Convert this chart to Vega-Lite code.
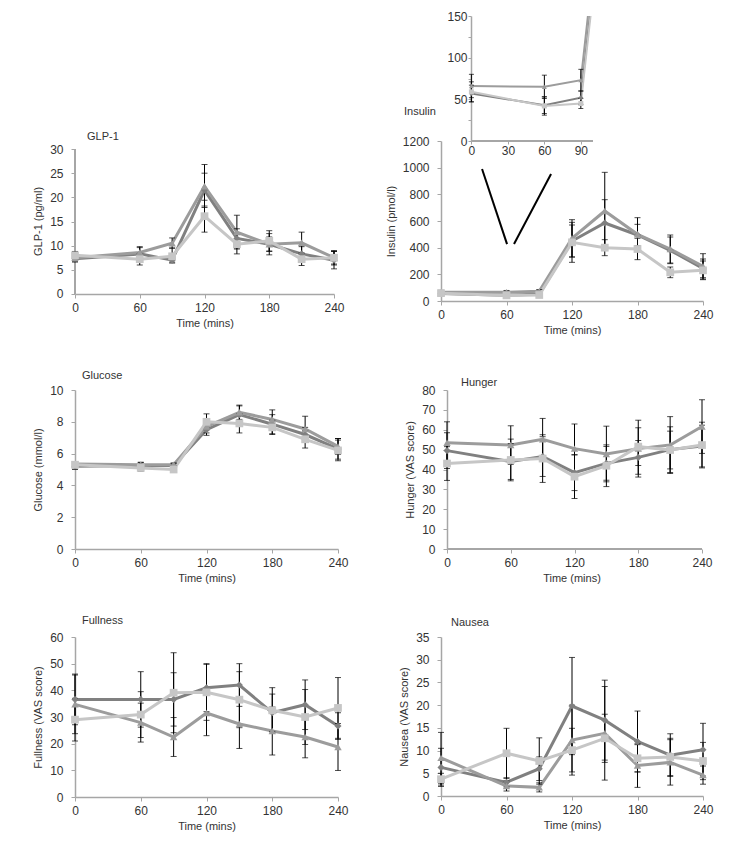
{
  "$schema": "https://vega.github.io/schema/vega-lite/v6.json",
  "padding": {"left": 32, "top": 10, "right": 5, "bottom": 5},
  "config": {
    "font": "Liberation Sans",
    "view": {"stroke": null},
    "axis": {"grid": false, "domainColor": "#a6a6a6", "domainWidth": 1.5, "tickColor": "#a6a6a6", "tickWidth": 1, "tickSize": 4, "labelFontSize": 12, "labelColor": "#333333", "titleFontSize": 11, "titleFontWeight": "normal", "titleColor": "#333333", "labelFlush": false, "labelOverlap": false, "format": "d"},
    "axisX": {"labelPadding": 4, "titlePadding": 4},
    "axisY": {"labelPadding": 8, "titlePadding": 6},
    "title": {"fontSize": 11, "fontWeight": "normal", "anchor": "start", "color": "#333333", "frame": "group"},
    "point": {"filled": true, "opacity": 1}
  },
  "datasets": {
    "glp1": [
      {"t":0,"g":"A","m":7.3,"lo":6.6,"hi":8.0},{"t":0,"g":"B","m":7.5,"lo":6.8,"hi":8.2},{"t":0,"g":"C","m":8.0,"lo":7.2,"hi":8.8},
      {"t":60,"g":"A","m":8.3,"lo":7.0,"hi":9.6},{"t":60,"g":"B","m":8.6,"lo":7.4,"hi":9.8},{"t":60,"g":"C","m":7.2,"lo":6.0,"hi":8.4},
      {"t":90,"g":"A","m":7.0,"lo":6.4,"hi":7.6},{"t":90,"g":"B","m":10.5,"lo":9.5,"hi":11.6},{"t":90,"g":"C","m":7.8,"lo":6.6,"hi":9.5},
      {"t":120,"g":"A","m":21.5,"lo":18.2,"hi":25.0},{"t":120,"g":"B","m":22.3,"lo":17.9,"hi":26.8},{"t":120,"g":"C","m":16.1,"lo":12.8,"hi":19.4},
      {"t":150,"g":"A","m":11.5,"lo":9.5,"hi":13.5},{"t":150,"g":"B","m":12.8,"lo":9.3,"hi":16.3},{"t":150,"g":"C","m":10.3,"lo":8.3,"hi":12.3},
      {"t":180,"g":"A","m":10.3,"lo":8.8,"hi":11.8},{"t":180,"g":"B","m":10.3,"lo":8.1,"hi":12.5},{"t":180,"g":"C","m":11.0,"lo":8.9,"hi":13.1},
      {"t":210,"g":"A","m":8.3,"lo":6.8,"hi":9.8},{"t":210,"g":"B","m":10.6,"lo":8.4,"hi":12.8},{"t":210,"g":"C","m":7.2,"lo":5.9,"hi":8.5},
      {"t":240,"g":"A","m":7.0,"lo":5.2,"hi":8.8},{"t":240,"g":"B","m":7.5,"lo":6.0,"hi":9.0},{"t":240,"g":"C","m":7.5,"lo":6.2,"hi":8.8}
    ],
    "insulin": [
      {"t":0,"g":"A","m":57,"lo":47,"hi":67},{"t":0,"g":"B","m":66,"lo":52,"hi":80},{"t":0,"g":"C","m":59,"lo":47,"hi":71},
      {"t":60,"g":"A","m":43,"lo":33,"hi":53},{"t":60,"g":"B","m":65,"lo":51,"hi":79},{"t":60,"g":"C","m":42,"lo":31,"hi":53},
      {"t":90,"g":"A","m":52,"lo":44,"hi":60},{"t":90,"g":"B","m":73,"lo":60,"hi":86},{"t":90,"g":"C","m":45,"lo":39,"hi":51},
      {"t":120,"g":"A","m":450,"lo":330,"hi":570},{"t":120,"g":"B","m":470,"lo":330,"hi":610},{"t":120,"g":"C","m":440,"lo":290,"hi":590},
      {"t":150,"g":"A","m":585,"lo":410,"hi":760},{"t":150,"g":"B","m":675,"lo":385,"hi":965},{"t":150,"g":"C","m":400,"lo":340,"hi":460},
      {"t":180,"g":"A","m":495,"lo":415,"hi":575},{"t":180,"g":"B","m":500,"lo":375,"hi":625},{"t":180,"g":"C","m":390,"lo":310,"hi":470},
      {"t":210,"g":"A","m":380,"lo":280,"hi":480},{"t":210,"g":"B","m":390,"lo":285,"hi":495},{"t":210,"g":"C","m":215,"lo":175,"hi":255},
      {"t":240,"g":"A","m":245,"lo":175,"hi":315},{"t":240,"g":"B","m":260,"lo":165,"hi":355},{"t":240,"g":"C","m":230,"lo":160,"hi":300}
    ],
    "glucose": [
      {"t":0,"g":"A","m":5.2,"lo":5.0,"hi":5.4},{"t":0,"g":"B","m":5.35,"lo":5.2,"hi":5.5},{"t":0,"g":"C","m":5.3,"lo":5.1,"hi":5.5},
      {"t":60,"g":"A","m":5.25,"lo":5.05,"hi":5.45},{"t":60,"g":"B","m":5.3,"lo":5.15,"hi":5.45},{"t":60,"g":"C","m":5.1,"lo":4.9,"hi":5.3},
      {"t":90,"g":"A","m":5.25,"lo":5.1,"hi":5.4},{"t":90,"g":"B","m":5.3,"lo":5.2,"hi":5.4},{"t":90,"g":"C","m":5.0,"lo":4.85,"hi":5.15},
      {"t":120,"g":"A","m":7.5,"lo":7.15,"hi":7.85},{"t":120,"g":"B","m":7.7,"lo":7.3,"hi":8.1},{"t":120,"g":"C","m":8.0,"lo":7.5,"hi":8.5},
      {"t":150,"g":"A","m":8.45,"lo":7.9,"hi":9.0},{"t":150,"g":"B","m":8.6,"lo":8.15,"hi":9.05},{"t":150,"g":"C","m":7.9,"lo":7.3,"hi":8.5},
      {"t":180,"g":"A","m":7.85,"lo":7.25,"hi":8.45},{"t":180,"g":"B","m":8.15,"lo":7.55,"hi":8.75},{"t":180,"g":"C","m":7.65,"lo":7.2,"hi":8.1},
      {"t":210,"g":"A","m":7.2,"lo":6.75,"hi":7.65},{"t":210,"g":"B","m":7.55,"lo":6.75,"hi":8.35},{"t":210,"g":"C","m":6.9,"lo":6.35,"hi":7.45},
      {"t":240,"g":"A","m":6.3,"lo":5.65,"hi":6.95},{"t":240,"g":"B","m":6.45,"lo":5.95,"hi":6.95},{"t":240,"g":"C","m":6.2,"lo":5.55,"hi":6.85}
    ],
    "hunger": [
      {"t":0,"g":"A","m":49.5,"lo":40.5,"hi":58.5},{"t":0,"g":"B","m":53.5,"lo":43,"hi":64},{"t":0,"g":"C","m":43,"lo":34.5,"hi":51.5},
      {"t":60,"g":"A","m":44,"lo":35,"hi":53},{"t":60,"g":"B","m":52.3,"lo":42.6,"hi":62},{"t":60,"g":"C","m":44.8,"lo":34.3,"hi":55.3},
      {"t":90,"g":"A","m":46.5,"lo":36.5,"hi":56.5},{"t":90,"g":"B","m":55.2,"lo":44.7,"hi":65.7},{"t":90,"g":"C","m":45.5,"lo":33.5,"hi":57.5},
      {"t":120,"g":"A","m":38.4,"lo":29.4,"hi":47.4},{"t":120,"g":"B","m":50.5,"lo":38.1,"hi":62.9},{"t":120,"g":"C","m":36.4,"lo":25.4,"hi":47.4},
      {"t":150,"g":"A","m":43.1,"lo":34.6,"hi":51.6},{"t":150,"g":"B","m":47.8,"lo":33.8,"hi":61.8},{"t":150,"g":"C","m":41.9,"lo":31.4,"hi":52.4},
      {"t":180,"g":"A","m":46.1,"lo":37.6,"hi":54.6},{"t":180,"g":"B","m":50.5,"lo":36.2,"hi":64.8},{"t":180,"g":"C","m":51.5,"lo":42,"hi":61},
      {"t":210,"g":"A","m":50,"lo":38.5,"hi":61.5},{"t":210,"g":"B","m":52.3,"lo":38,"hi":66.6},{"t":210,"g":"C","m":49.8,"lo":40.3,"hi":59.3},
      {"t":240,"g":"A","m":51.8,"lo":41.3,"hi":62.3},{"t":240,"g":"B","m":61.6,"lo":48.1,"hi":75.1},{"t":240,"g":"C","m":52.3,"lo":40.8,"hi":63.8}
    ],
    "fullness": [
      {"t":0,"g":"A","m":36.6,"lo":27.1,"hi":46.1},{"t":0,"g":"B","m":34.75,"lo":23.75,"hi":45.75},{"t":0,"g":"C","m":29,"lo":21,"hi":37},
      {"t":60,"g":"A","m":36.6,"lo":26.2,"hi":47},{"t":60,"g":"B","m":27.9,"lo":20.6,"hi":35.2},{"t":60,"g":"C","m":30.9,"lo":22.3,"hi":39.5},
      {"t":90,"g":"A","m":36.6,"lo":26.6,"hi":46.6},{"t":90,"g":"B","m":22.5,"lo":15.2,"hi":29.8},{"t":90,"g":"C","m":39.1,"lo":24.1,"hi":54.1},
      {"t":120,"g":"A","m":41,"lo":32,"hi":50},{"t":120,"g":"B","m":31.5,"lo":23,"hi":40},{"t":120,"g":"C","m":39.25,"lo":28.75,"hi":49.75},
      {"t":150,"g":"A","m":42,"lo":34,"hi":50},{"t":150,"g":"B","m":27.4,"lo":18.2,"hi":36.6},{"t":150,"g":"C","m":36.5,"lo":26,"hi":47},
      {"t":180,"g":"A","m":31.6,"lo":24.6,"hi":38.6},{"t":180,"g":"B","m":24.75,"lo":15.75,"hi":33.75},{"t":180,"g":"C","m":32.5,"lo":24,"hi":41},
      {"t":210,"g":"A","m":34.6,"lo":25.3,"hi":43.9},{"t":210,"g":"B","m":22.5,"lo":14.7,"hi":30.3},{"t":210,"g":"C","m":30,"lo":19.7,"hi":40.3},
      {"t":240,"g":"A","m":26.6,"lo":21.6,"hi":31.6},{"t":240,"g":"B","m":18.75,"lo":9.95,"hi":27.55},{"t":240,"g":"C","m":33.4,"lo":22,"hi":44.8}
    ],
    "nausea": [
      {"t":0,"g":"A","m":6.3,"lo":2.1,"hi":10.5},{"t":0,"g":"B","m":8.4,"lo":2.8,"hi":14},{"t":0,"g":"C","m":3.7,"lo":2.4,"hi":5},
      {"t":60,"g":"A","m":3.0,"lo":2,"hi":4},{"t":60,"g":"B","m":2.2,"lo":1.1,"hi":3.3},{"t":60,"g":"C","m":9.4,"lo":3.9,"hi":14.9},
      {"t":90,"g":"A","m":6.0,"lo":3.4,"hi":8.6},{"t":90,"g":"B","m":1.9,"lo":0.9,"hi":2.9},{"t":90,"g":"C","m":7.7,"lo":2.6,"hi":12.8},
      {"t":120,"g":"A","m":19.8,"lo":9.1,"hi":30.5},{"t":120,"g":"B","m":12.3,"lo":4.6,"hi":20},{"t":120,"g":"C","m":10.1,"lo":5.3,"hi":14.9},
      {"t":150,"g":"A","m":16.7,"lo":7.9,"hi":25.5},{"t":150,"g":"B","m":13.8,"lo":3.5,"hi":24.1},{"t":150,"g":"C","m":12.7,"lo":7.4,"hi":18},
      {"t":180,"g":"A","m":12,"lo":5.3,"hi":18.7},{"t":180,"g":"B","m":6.7,"lo":1.9,"hi":11.5},{"t":180,"g":"C","m":8.3,"lo":5.3,"hi":11.3},
      {"t":210,"g":"A","m":9.0,"lo":4.3,"hi":13.7},{"t":210,"g":"B","m":7.4,"lo":2.4,"hi":12.4},{"t":210,"g":"C","m":8.6,"lo":4.5,"hi":12.7},
      {"t":240,"g":"A","m":10.2,"lo":4.4,"hi":16},{"t":240,"g":"B","m":4.6,"lo":2.6,"hi":6.6},{"t":240,"g":"C","m":7.7,"lo":3.6,"hi":11.8}
    ],
    "vlines": [
      {"xa":37.6,"ya":990,"xb":60.5,"yb":427},
      {"xa":66.9,"ya":427,"xb":100.8,"yb":952}
    ]
  },
  "columns": 2,
  "spacing": {"row": 0, "column": 103},
  "bounds": "flush",
  "align": "each",
  "concat": [
    {"width": 10, "height": 125, "data": {"values": []}, "mark": {"type": "point", "opacity": 0}, "encoding": {}},
    {
      "data": {"name": "insulin"},
      "width": 152, "height": 125,
      "encoding": {
        "x": {"field": "t", "type": "quantitative", "title": null, "scale": {"domain": [-25, 100], "nice": false, "zero": false}, "axis": {"values": [0, 30, 60, 90], "domain": false, "labelPadding": 1, "tickSize": 3}},
        "y": {"field": "m", "type": "quantitative", "title": null, "scale": {"domain": [0, 150], "nice": false}, "axis": {"values": [0, 25, 50, 75, 100, 125, 150], "labelExpr": "datum.value % 50 === 0 ? datum.label : ''", "offset": -30, "tickSize": 3, "labelPadding": 1}}
      },
      "layer": [
        {"mark": {"type": "rule", "color": "#a6a6a6", "strokeWidth": 1.5}, "encoding": {"x": {"datum": 0, "type": "quantitative", "title": null}, "x2": {"datum": 100}, "y": {"datum": 0, "type": "quantitative", "title": null}}},
        {"mark": {"type": "line", "strokeWidth": 2, "clip": true}, "encoding": {"color": {"field": "g", "type": "nominal", "scale": {"domain": ["A", "B", "C"], "range": ["#808080", "#9c9c9c", "#c6c6c6"]}, "legend": null}}},
        {"mark": {"type": "rule", "color": "black", "clip": true}, "encoding": {"y": {"field": "lo", "type": "quantitative", "title": null, "scale": {"domain": [0, 150], "nice": false}}, "y2": {"field": "hi"}}},
        {"mark": {"type": "tick", "orient": "horizontal", "size": 5, "thickness": 1, "color": "black", "clip": true}, "encoding": {"y": {"field": "lo", "type": "quantitative", "title": null, "scale": {"domain": [0, 150], "nice": false}}}},
        {"mark": {"type": "tick", "orient": "horizontal", "size": 5, "thickness": 1, "color": "black", "clip": true}, "encoding": {"y": {"field": "hi", "type": "quantitative", "title": null, "scale": {"domain": [0, 150], "nice": false}}}},
        {"mark": {"type": "point", "size": 25, "clip": true}, "encoding": {"color": {"field": "g", "type": "nominal", "scale": {"domain": ["A", "B", "C"], "range": ["#808080", "#9c9c9c", "#c6c6c6"]}, "legend": null}, "shape": {"field": "g", "type": "nominal", "scale": {"domain": ["A", "B", "C"], "range": ["diamond", "triangle-up", "square"]}, "legend": null}}}
      ]
    },
    {
      "data": {"name": "glp1"},
      "width": 259, "height": 160,
      "title": {"text": "GLP-1", "dx": 12, "offset": -10, "baseline": "alphabetic"},
      "encoding": {
        "x": {"field": "t", "type": "quantitative", "title": "Time (mins)", "scale": {"domain": [0, 240], "nice": false}, "axis": {"values": [0, 60, 120, 180, 240], "offset": -7}},
        "y": {"field": "m", "type": "quantitative", "title": "GLP-1 (pg/ml)", "scale": {"domain": [-1.45, 31.66], "nice": false, "zero": false}, "axis": {"values": [0, 5, 10, 15, 20, 25, 30], "domain": false}}
      },
      "layer": [
        {"mark": {"type": "rule", "color": "#a6a6a6", "strokeWidth": 1.5}, "encoding": {"x": {"datum": 0, "type": "quantitative", "title": "Time (mins)"}, "y": {"datum": 0, "type": "quantitative", "title": "GLP-1 (pg/ml)"}, "y2": {"datum": 30}}},
        {"mark": {"type": "line", "strokeWidth": 3}, "encoding": {"color": {"field": "g", "type": "nominal", "scale": {"domain": ["A", "B", "C"], "range": ["#808080", "#9c9c9c", "#c6c6c6"]}, "legend": null}}},
        {"mark": {"type": "rule", "color": "black"}, "encoding": {"y": {"field": "lo", "type": "quantitative", "title": "GLP-1 (pg/ml)", "scale": {"domain": [-1.45, 31.66], "nice": false, "zero": false}}, "y2": {"field": "hi"}}},
        {"mark": {"type": "tick", "orient": "horizontal", "size": 6, "thickness": 1, "color": "black"}, "encoding": {"y": {"field": "lo", "type": "quantitative", "title": "GLP-1 (pg/ml)", "scale": {"domain": [-1.45, 31.66], "nice": false, "zero": false}}}},
        {"mark": {"type": "tick", "orient": "horizontal", "size": 6, "thickness": 1, "color": "black"}, "encoding": {"y": {"field": "hi", "type": "quantitative", "title": "GLP-1 (pg/ml)", "scale": {"domain": [-1.45, 31.66], "nice": false, "zero": false}}}},
        {"mark": {"type": "point"}, "encoding": {"color": {"field": "g", "type": "nominal", "scale": {"domain": ["A", "B", "C"], "range": ["#808080", "#9c9c9c", "#c6c6c6"]}, "legend": null}, "shape": {"field": "g", "type": "nominal", "scale": {"domain": ["A", "B", "C"], "range": ["diamond", "triangle-up", "square"]}, "legend": null}, "size": {"field": "g", "type": "ordinal", "scale": {"domain": ["A", "B", "C"], "range": [50, 60, 64]}, "legend": null}}}
      ]
    },
    {
      "data": {"name": "insulin"},
      "width": 262, "height": 160,
      "title": {"text": "Insulin", "dx": -37, "offset": 9, "baseline": "alphabetic"},
      "encoding": {
        "x": {"field": "t", "type": "quantitative", "title": "Time (mins)", "scale": {"domain": [0, 240], "nice": false}, "axis": {"values": [0, 60, 120, 180, 240]}},
        "y": {"field": "m", "type": "quantitative", "title": "Insulin (pmol/l)", "scale": {"domain": [0, 1200], "nice": false}, "axis": {"values": [0, 200, 400, 600, 800, 1000, 1200]}}
      },
      "layer": [
        {"mark": {"type": "line", "strokeWidth": 3}, "encoding": {"color": {"field": "g", "type": "nominal", "scale": {"domain": ["A", "B", "C"], "range": ["#808080", "#9c9c9c", "#c6c6c6"]}, "legend": null}}},
        {"mark": {"type": "rule", "color": "black"}, "encoding": {"y": {"field": "lo", "type": "quantitative", "title": "Insulin (pmol/l)", "scale": {"domain": [0, 1200], "nice": false}}, "y2": {"field": "hi"}}},
        {"mark": {"type": "tick", "orient": "horizontal", "size": 6, "thickness": 1, "color": "black"}, "encoding": {"y": {"field": "lo", "type": "quantitative", "title": "Insulin (pmol/l)", "scale": {"domain": [0, 1200], "nice": false}}}},
        {"mark": {"type": "tick", "orient": "horizontal", "size": 6, "thickness": 1, "color": "black"}, "encoding": {"y": {"field": "hi", "type": "quantitative", "title": "Insulin (pmol/l)", "scale": {"domain": [0, 1200], "nice": false}}}},
        {"mark": {"type": "point"}, "encoding": {"color": {"field": "g", "type": "nominal", "scale": {"domain": ["A", "B", "C"], "range": ["#808080", "#9c9c9c", "#c6c6c6"]}, "legend": null}, "shape": {"field": "g", "type": "nominal", "scale": {"domain": ["A", "B", "C"], "range": ["diamond", "triangle-up", "square"]}, "legend": null}, "size": {"field": "g", "type": "ordinal", "scale": {"domain": ["A", "B", "C"], "range": [50, 60, 64]}, "legend": null}}},
        {"data": {"name": "vlines"}, "mark": {"type": "rule", "color": "black", "strokeWidth": 2}, "encoding": {"x": {"field": "xa", "type": "quantitative", "title": "Time (mins)", "scale": {"domain": [0, 240], "nice": false}}, "x2": {"field": "xb"}, "y": {"field": "ya", "type": "quantitative", "title": "Insulin (pmol/l)", "scale": {"domain": [0, 1200], "nice": false}}, "y2": {"field": "yb"}}}
      ]
    },
    {"width": 10, "height": 89, "data": {"values": []}, "mark": {"type": "point", "opacity": 0}, "encoding": {}},
    {"width": 10, "height": 89, "data": {"values": []}, "mark": {"type": "point", "opacity": 0}, "encoding": {}},
    {
      "data": {"name": "glucose"},
      "width": 263, "height": 159,
      "title": {"text": "Glucose", "dx": 7, "offset": -6, "baseline": "alphabetic"},
      "encoding": {
        "x": {"field": "t", "type": "quantitative", "title": "Time (mins)", "scale": {"domain": [0, 240], "nice": false}, "axis": {"values": [0, 60, 120, 180, 240]}},
        "y": {"field": "m", "type": "quantitative", "title": "Glucose (mmol/l)", "scale": {"domain": [0, 10], "nice": false}, "axis": {"values": [0, 2, 4, 6, 8, 10]}}
      },
      "layer": [
        {"mark": {"type": "line", "strokeWidth": 3}, "encoding": {"color": {"field": "g", "type": "nominal", "scale": {"domain": ["A", "B", "C"], "range": ["#808080", "#9c9c9c", "#c6c6c6"]}, "legend": null}}},
        {"mark": {"type": "rule", "color": "black"}, "encoding": {"y": {"field": "lo", "type": "quantitative", "title": "Glucose (mmol/l)", "scale": {"domain": [0, 10], "nice": false}}, "y2": {"field": "hi"}}},
        {"mark": {"type": "tick", "orient": "horizontal", "size": 6, "thickness": 1, "color": "black"}, "encoding": {"y": {"field": "lo", "type": "quantitative", "title": "Glucose (mmol/l)", "scale": {"domain": [0, 10], "nice": false}}}},
        {"mark": {"type": "tick", "orient": "horizontal", "size": 6, "thickness": 1, "color": "black"}, "encoding": {"y": {"field": "hi", "type": "quantitative", "title": "Glucose (mmol/l)", "scale": {"domain": [0, 10], "nice": false}}}},
        {"mark": {"type": "point"}, "encoding": {"color": {"field": "g", "type": "nominal", "scale": {"domain": ["A", "B", "C"], "range": ["#808080", "#9c9c9c", "#c6c6c6"]}, "legend": null}, "shape": {"field": "g", "type": "nominal", "scale": {"domain": ["A", "B", "C"], "range": ["diamond", "triangle-up", "square"]}, "legend": null}, "size": {"field": "g", "type": "ordinal", "scale": {"domain": ["A", "B", "C"], "range": [50, 60, 64]}, "legend": null}}}
      ]
    },
    {
      "data": {"name": "hunger"},
      "width": 261, "height": 159,
      "title": {"text": "Hunger", "dx": 20, "offset": -13, "baseline": "alphabetic"},
      "encoding": {
        "x": {"field": "t", "type": "quantitative", "title": "Time (mins)", "scale": {"domain": [-5.65, 240], "nice": false, "zero": false}, "axis": {"values": [0, 60, 120, 180, 240], "domain": false}},
        "y": {"field": "m", "type": "quantitative", "title": "Hunger (VAS score)", "scale": {"domain": [0, 80], "nice": false}, "axis": {"values": [0, 10, 20, 30, 40, 50, 60, 70, 80], "offset": -6}}
      },
      "layer": [
        {"mark": {"type": "rule", "color": "#a6a6a6", "strokeWidth": 1.5}, "encoding": {"x": {"datum": 0, "type": "quantitative", "title": "Time (mins)"}, "x2": {"datum": 240}, "y": {"datum": 0, "type": "quantitative", "title": "Hunger (VAS score)"}}},
        {"mark": {"type": "line", "strokeWidth": 3}, "encoding": {"color": {"field": "g", "type": "nominal", "scale": {"domain": ["A", "B", "C"], "range": ["#808080", "#9c9c9c", "#c6c6c6"]}, "legend": null}}},
        {"mark": {"type": "rule", "color": "black"}, "encoding": {"y": {"field": "lo", "type": "quantitative", "title": "Hunger (VAS score)", "scale": {"domain": [0, 80], "nice": false}}, "y2": {"field": "hi"}}},
        {"mark": {"type": "tick", "orient": "horizontal", "size": 6, "thickness": 1, "color": "black"}, "encoding": {"y": {"field": "lo", "type": "quantitative", "title": "Hunger (VAS score)", "scale": {"domain": [0, 80], "nice": false}}}},
        {"mark": {"type": "tick", "orient": "horizontal", "size": 6, "thickness": 1, "color": "black"}, "encoding": {"y": {"field": "hi", "type": "quantitative", "title": "Hunger (VAS score)", "scale": {"domain": [0, 80], "nice": false}}}},
        {"mark": {"type": "point"}, "encoding": {"color": {"field": "g", "type": "nominal", "scale": {"domain": ["A", "B", "C"], "range": ["#808080", "#9c9c9c", "#c6c6c6"]}, "legend": null}, "shape": {"field": "g", "type": "nominal", "scale": {"domain": ["A", "B", "C"], "range": ["diamond", "triangle-up", "square"]}, "legend": null}, "size": {"field": "g", "type": "ordinal", "scale": {"domain": ["A", "B", "C"], "range": [50, 60, 64]}, "legend": null}}}
      ]
    },
    {"width": 10, "height": 88, "data": {"values": []}, "mark": {"type": "point", "opacity": 0}, "encoding": {}},
    {"width": 10, "height": 88, "data": {"values": []}, "mark": {"type": "point", "opacity": 0}, "encoding": {}},
    {
      "data": {"name": "fullness"},
      "width": 263, "height": 160,
      "title": {"text": "Fullness", "dx": 7, "offset": -4, "baseline": "alphabetic"},
      "encoding": {
        "x": {"field": "t", "type": "quantitative", "title": "Time (mins)", "scale": {"domain": [0, 240], "nice": false}, "axis": {"values": [0, 60, 120, 180, 240]}},
        "y": {"field": "m", "type": "quantitative", "title": "Fullness (VAS score)", "scale": {"domain": [0, 60], "nice": false}, "axis": {"values": [0, 10, 20, 30, 40, 50, 60]}}
      },
      "layer": [
        {"mark": {"type": "line", "strokeWidth": 3}, "encoding": {"color": {"field": "g", "type": "nominal", "scale": {"domain": ["A", "B", "C"], "range": ["#808080", "#9c9c9c", "#c6c6c6"]}, "legend": null}}},
        {"mark": {"type": "rule", "color": "black"}, "encoding": {"y": {"field": "lo", "type": "quantitative", "title": "Fullness (VAS score)", "scale": {"domain": [0, 60], "nice": false}}, "y2": {"field": "hi"}}},
        {"mark": {"type": "tick", "orient": "horizontal", "size": 6, "thickness": 1, "color": "black"}, "encoding": {"y": {"field": "lo", "type": "quantitative", "title": "Fullness (VAS score)", "scale": {"domain": [0, 60], "nice": false}}}},
        {"mark": {"type": "tick", "orient": "horizontal", "size": 6, "thickness": 1, "color": "black"}, "encoding": {"y": {"field": "hi", "type": "quantitative", "title": "Fullness (VAS score)", "scale": {"domain": [0, 60], "nice": false}}}},
        {"mark": {"type": "point"}, "encoding": {"color": {"field": "g", "type": "nominal", "scale": {"domain": ["A", "B", "C"], "range": ["#808080", "#9c9c9c", "#c6c6c6"]}, "legend": null}, "shape": {"field": "g", "type": "nominal", "scale": {"domain": ["A", "B", "C"], "range": ["diamond", "triangle-up", "square"]}, "legend": null}, "size": {"field": "g", "type": "ordinal", "scale": {"domain": ["A", "B", "C"], "range": [50, 60, 64]}, "legend": null}}}
      ]
    },
    {
      "data": {"name": "nausea"},
      "width": 262, "height": 159,
      "title": {"text": "Nausea", "dx": 10, "offset": -6, "baseline": "alphabetic"},
      "encoding": {
        "x": {"field": "t", "type": "quantitative", "title": "Time (mins)", "scale": {"domain": [0, 240], "nice": false}, "axis": {"values": [0, 60, 120, 180, 240]}},
        "y": {"field": "m", "type": "quantitative", "title": "Nausea (VAS score)", "scale": {"domain": [0, 35], "nice": false}, "axis": {"values": [0, 5, 10, 15, 20, 25, 30, 35]}}
      },
      "layer": [
        {"mark": {"type": "line", "strokeWidth": 3}, "encoding": {"color": {"field": "g", "type": "nominal", "scale": {"domain": ["A", "B", "C"], "range": ["#808080", "#9c9c9c", "#c6c6c6"]}, "legend": null}}},
        {"mark": {"type": "rule", "color": "black"}, "encoding": {"y": {"field": "lo", "type": "quantitative", "title": "Nausea (VAS score)", "scale": {"domain": [0, 35], "nice": false}}, "y2": {"field": "hi"}}},
        {"mark": {"type": "tick", "orient": "horizontal", "size": 6, "thickness": 1, "color": "black"}, "encoding": {"y": {"field": "lo", "type": "quantitative", "title": "Nausea (VAS score)", "scale": {"domain": [0, 35], "nice": false}}}},
        {"mark": {"type": "tick", "orient": "horizontal", "size": 6, "thickness": 1, "color": "black"}, "encoding": {"y": {"field": "hi", "type": "quantitative", "title": "Nausea (VAS score)", "scale": {"domain": [0, 35], "nice": false}}}},
        {"mark": {"type": "point"}, "encoding": {"color": {"field": "g", "type": "nominal", "scale": {"domain": ["A", "B", "C"], "range": ["#808080", "#9c9c9c", "#c6c6c6"]}, "legend": null}, "shape": {"field": "g", "type": "nominal", "scale": {"domain": ["A", "B", "C"], "range": ["diamond", "triangle-up", "square"]}, "legend": null}, "size": {"field": "g", "type": "ordinal", "scale": {"domain": ["A", "B", "C"], "range": [50, 60, 64]}, "legend": null}}}
      ]
    }
  ]
}
